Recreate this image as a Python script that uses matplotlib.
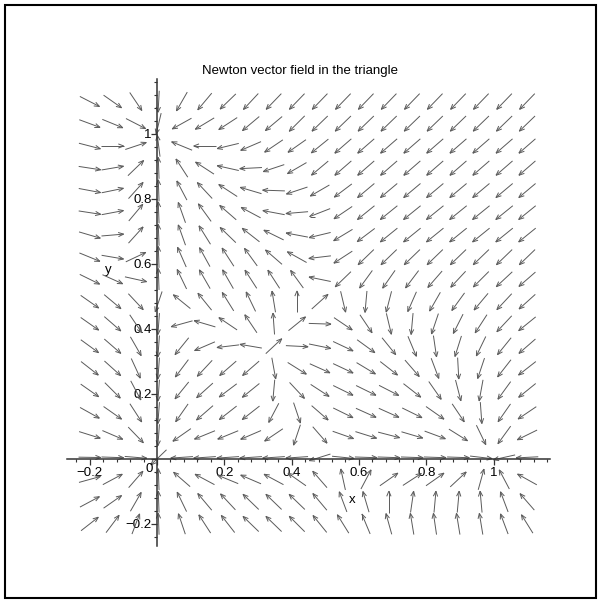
import numpy as np
import matplotlib.pyplot as plt
from matplotlib.collections import LineCollection
from matplotlib.patches import Rectangle

# grid of the field plot (20 x 20)
x_pts = [-0.2, -0.132, -0.063, 0.005, 0.074, 0.142, 0.211, 0.279, 0.347, 0.416,
         0.484, 0.553, 0.621, 0.689, 0.758, 0.826, 0.895, 0.963, 1.032, 1.1]
y_pts = [-0.2, -0.132, -0.063, 0.005, 0.074, 0.142, 0.211, 0.279, 0.347, 0.416,
         0.484, 0.553, 0.621, 0.689, 0.758, 0.826, 0.895, 0.963, 1.032, 1.1]

# arrow directions in degrees, one row per y (bottom -> top)
ang_rows = [
    [39, 54, 70, 92, 108, 122, 127, 135, 135, 134, 128, 121, 112, 105, 99, 98, 99, 99, 110, 121],
    [29, 36, 61, 92, 115, 129, 132, 135, 135, 135, 129, 110, 106, 90, 82, 85, 85, 95, 110, 130],
    [16, 29, 50, 92, 138, 151, 157, 156, 151, 144, 130, 102, 63, 36, 34, 36, 44, 75, 117, 150],
    [-1, -2, -5, 225, 184, 184, 184, 184, 184, 184, 198, -6, -2, -2, -2, -2, -2, -7, 193, 183],
    [-18, -24, -47, 266, 216, 203, 203, 204, 215, 252, -50, -20, -18, -15, -17, -21, -33, -65, 235, 207],
    [-30, -36, -58, 266, 236, 222, 219, 219, 243, -72, -42, -27, -25, -25, -27, -36, -57, -86, 236, 215],
    [-36, -46, -63, 266, 232, 223, 218, 220, 265, -48, -34, -27, -27, -28, -39, -56, -76, 260, 235, 220],
    [-39, -43, -66, 266, 234, 228, 222, 222, 280, -33, -25, -26, -32, -39, -50, -70, -87, 252, 233, 219],
    [-37, -42, -61, 266, 232, 204, 187, 170, 44, -3, -12, -26, -37, -52, -68, -82, 253, 245, 232, 222],
    [-36, -42, -57, 266, 196, 163, 145, 123, 94, 40, -2, -35, -57, -77, 265, 252, 244, 238, 228, 220],
    [-36, -41, -48, 252, 140, 128, 121, 115, 99, 90, 43, 283, 265, 256, 247, 241, 235, 231, 228, 223],
    [-27, -25, -13, 92, 115, 119, 119, 122, 122, 125, 168, 225, 235, 236, 234, 230, 228, 226, 224, 222],
    [-23, -10, 26, 92, 113, 118, 122, 125, 138, 150, 187, 214, 225, 225, 225, 225, 225, 225, 225, 225],
    [-17, 5, 49, 92, 109, 121, 135, 141, 153, 169, 194, 212, 218, 220, 220, 220, 220, 220, 220, 220],
    [-9, 11, 51, 92, 109, 125, 138, 151, 169, 185, 202, 215, 220, 220, 220, 220, 220, 220, 220, 220],
    [-11, 12, 49, 92, 117, 132, 146, 163, 178, 199, 211, 218, 221, 221, 221, 221, 221, 221, 221, 221],
    [-9, 10, 45, 92, 122, 146, 167, 183, 199, 211, 221, 222, 222, 222, 222, 222, 222, 222, 222, 222],
    [-15, 0, 19, 97, 157, 180, 194, 204, 215, 216, 220, 222, 222, 222, 222, 222, 222, 222, 222, 222],
    [-21, -23, -28, 257, 210, 212, 214, 221, 221, 226, 225, 225, 225, 225, 225, 225, 225, 225, 225, 225],
    [-28, -36, -57, 267, 241, 231, 225, 228, 227, 227, 227, 227, 227, 227, 227, 227, 227, 227, 227, 227],
]

major = [-0.2, 0, 0.2, 0.4, 0.6, 0.8, 1.0]
major_lbl = ['\u22120.2', '', '0.2', '0.4', '0.6', '0.8', '1']
minor = [-0.24, -0.16, -0.12, -0.08, -0.04, 0.04, 0.08, 0.12, 0.16, 0.24, 0.28, 0.32, 0.36,
         0.44, 0.48, 0.52, 0.56, 0.64, 0.68, 0.72, 0.76, 0.84, 0.88, 0.92, 0.96, 1.04, 1.08,
         1.12, 1.16]

plt.rcParams['font.family'] = ['Liberation Sans', 'DejaVu Sans']
fs = 9.5

fig = plt.figure(figsize=(6, 6.05), dpi=100)
ax = fig.add_axes([0.1113, 0.0974, 0.8055, 0.7714])
ax.set_xlim(-0.268, 1.168)
ax.set_ylim(-0.268, 1.168)

# thin Maple-style arrows, centred on the grid points
L = 0.066
segs = []
for j, yv in enumerate(y_pts):
    for i, xv in enumerate(x_pts):
        a = np.radians(ang_rows[j][i])
        ux, uy = np.cos(a), np.sin(a)
        x0, y0 = xv - L / 2 * ux, yv - L / 2 * uy
        x1, y1 = xv + L / 2 * ux, yv + L / 2 * uy
        segs.append([(x0, y0), (x1, y1)])
        for s in (1, -1):
            b = a + np.pi + s * np.radians(22)
            segs.append([(x1, y1), (x1 + 0.26 * L * np.cos(b), y1 + 0.26 * L * np.sin(b))])
ax.add_collection(LineCollection(segs, colors='#5a5a5a', linewidths=0.7))

# axes through the origin
for s in ['top', 'right']:
    ax.spines[s].set_visible(False)
for s in ['left', 'bottom']:
    ax.spines[s].set_position(('data', 0))
    ax.spines[s].set_linewidth(1.1)
    ax.spines[s].set_color('#333333')

ax.set_xticks(major)
ax.set_xticklabels(major_lbl)
ax.set_yticks(major)
ax.set_yticklabels(major_lbl)
ax.set_xticks(minor, minor=True)
ax.set_yticks(minor, minor=True)
ax.tick_params(which='major', length=4, width=0.9, direction='out', labelsize=fs, pad=2,
               color='#333333')
ax.tick_params(which='minor', length=2, width=0.8, direction='out', color='#333333')
ax.tick_params(axis='y', pad=0)

ax.text(-0.012, -0.012, '0', ha='right', va='top', fontsize=fs)
ax.text(0.58, -0.125, 'x', ha='center', va='center', fontsize=fs)
ax.text(-0.145, 0.58, 'y', ha='center', va='center', fontsize=fs)

fig.text(0.5, 1 - 71 / 605, 'Newton vector field in the triangle', ha='center', va='center',
         fontsize=fs)

fig.patches.append(Rectangle((5 / 600, 1 - 598 / 605), 591 / 600, 593 / 605,
                             transform=fig.transFigure, fill=False, lw=1.5, ec='black'))

fig.savefig('out.png', dpi=100)
